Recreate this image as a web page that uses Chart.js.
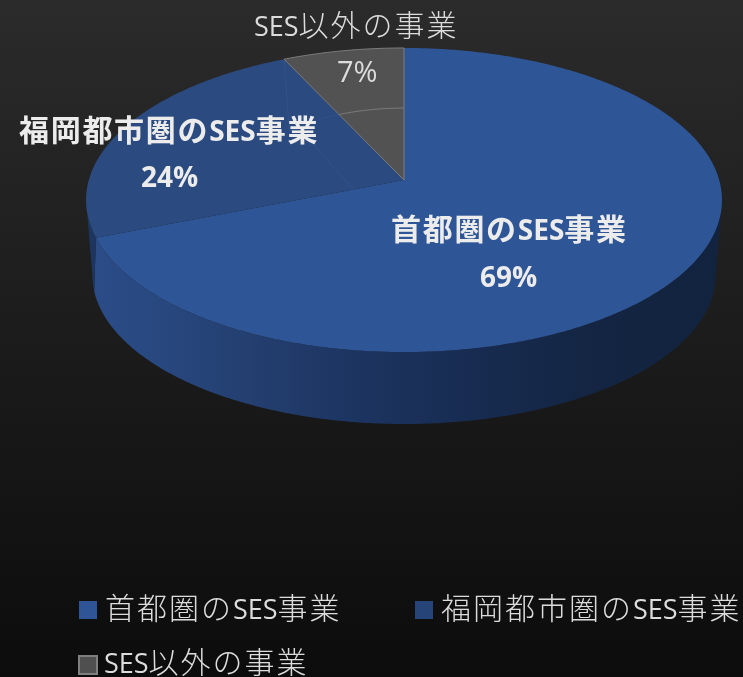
<!DOCTYPE html>
<html><head><meta charset="utf-8">
<style>html,body{margin:0;padding:0;background:#111}canvas{display:block}</style>
<script src="https://cdn.jsdelivr.net/npm/chart.js@4"></script>
</head><body>
<div style="width:743px;height:677px"><canvas id="c" width="743" height="677"></canvas></div>
<script>
const categories = ['首都圏のSES事業', '福岡都市圏のSES事業', 'SES以外の事業'];
const shares = [69, 24, 7];
const sliceColors = ['#2e5596', '#2b4a80', '#525252'];
const edgeColors = [null, null, '#7d7d7d'];
const wallColors = [null, '#1d3660', '#3a3a3a'];
const legendColors = ['#2f5597', '#264478', '#4f4f4f'];
const legendBorders = [null, null, '#7f7f7f'];

// perspective of the pie's top face, relative to the element's outer radius
const P = {a: 315.2/150, b: 149.4/150, k: -0.1316, depthScale: 0.98, depth: 75.4, skew: 0.14};
const proj = (el, t, r = 1, low = false) => {
  const R = el.outerRadius, u = r*Math.sin(t), v = -r*Math.cos(t), w = 1 + P.k*v;
  const s = low ? P.depthScale : 1;
  return [el.x + s*R*P.a*u/w, el.y + s*R*P.b*v/w + (low ? P.depth : 0)];
};
const trace = (ctx, el, t0, t1, low, r = 1, first = false) => {
  const n = Math.max(2, Math.ceil(Math.abs(t1-t0)/0.01));
  for (let i = 0; i <= n; i++) {
    const [x, y] = proj(el, t0 + (t1-t0)*i/n, r, low);
    (i === 0 && first) ? ctx.moveTo(x, y) : ctx.lineTo(x, y);
  }
};

const Base = Chart.registry.getElement('arc');
class ProjArc extends Base {
  draw(ctx) {
    const t0 = this.startAngle + Math.PI/2, t1 = this.endAngle + Math.PI/2;
    const idx = this.$context ? this.$context.dataIndex : 0;
    // side wall: between the silhouette angles of the projected ellipse
    const L = 4.58, a = Math.max(t0, 1.70), b = Math.min(t1, L);
    if (b > a) {
      const lowA = a === t0 ? Math.min(a + P.skew, L) : a;
      const lowB = b === t1 ? Math.min(b + P.skew, L) : b;
      ctx.beginPath();
      trace(ctx, this, a, b, false, 1, true);
      trace(ctx, this, lowB, lowA, true);
      ctx.closePath();
      if (wallColors[idx]) ctx.fillStyle = wallColors[idx];
      else {
        const g = ctx.createLinearGradient(90, 0, 722, 0);
        [[0,'#2b4c87'],[0.1,'#284880'],[0.25,'#243f70'],[0.42,'#1c3460'],[0.62,'#172b50'],[0.8,'#132542'],[1,'#12233f']]
          .forEach(s => g.addColorStop(s[0], s[1]));
        ctx.fillStyle = g;
      }
      ctx.fill();
    }
    // top face
    ctx.beginPath();
    ctx.moveTo(this.x, this.y);
    trace(ctx, this, t0, t1, false);
    ctx.closePath();
    ctx.fillStyle = sliceColors[idx];
    ctx.fill();
    if (idx === 1) {          // faint inner facets
      ctx.save();
      ctx.strokeStyle = 'rgba(70,110,175,0.22)';
      ctx.lineWidth = 1;
      ctx.beginPath();
      const e = proj(this, t1), m = proj(this, 5.45, 0.514);
      ctx.moveTo(e[0], e[1]); ctx.lineTo(m[0], m[1]);
      trace(ctx, this, 5.45, t1, false, 0.514);
      const s = proj(this, t0, 0.17), q = proj(this, 5.46, 0.438);
      ctx.moveTo(s[0], s[1]); ctx.lineTo(q[0], q[1]);
      ctx.stroke();
      ctx.restore();
    }
    if (edgeColors[idx]) {
      ctx.strokeStyle = edgeColors[idx];
      ctx.lineWidth = 1;
      ctx.stroke();
      ctx.beginPath();
      trace(ctx, this, t0, t1, false, 0.514, true);
      ctx.stroke();
    }
  }
}
ProjArc.id = 'projArc';
ProjArc.defaults = Base.defaults;
ProjArc.defaultRoutes = Base.defaultRoutes;

const PieBase = Chart.registry.getController('pie');
class Pie3D extends PieBase {}
Pie3D.id = 'pie3d';
Pie3D.defaults = {dataElementType: 'projArc'};
Chart.register(ProjArc, Pie3D);

const CJK = '"Noto Sans CJK JP"', LAT = '"Open Sans"';
function runs(ctx, text, x, y, o) {
  const parts = text.match(/[A-Za-z0-9%]+|[^A-Za-z0-9%]+/g);
  ctx.textBaseline = 'alphabetic'; ctx.textAlign = 'left';
  ctx.fillStyle = o.color;
  parts.forEach(p => {
    const lat = /^[A-Za-z0-9%]/.test(p);
    ctx.font = `${lat ? o.latW : o.cjkW} ${lat ? o.lat : o.cjk}px ${lat ? LAT : CJK}`;
    ctx.letterSpacing = (lat ? 0 : o.gap) + 'px';
    ctx.fillText(p, x, y);
    x += ctx.measureText(p).width;
  });
  ctx.letterSpacing = '0px';
}
const bold = {cjk: 30, lat: 28, cjkW: 700, latW: 700, gap: 1.7, color: '#ececec'};
const thin = {cjk: 30, lat: 27, cjkW: 300, latW: 500, gap: 2, color: '#dcdcdc'};
const backdrop = {id: 'backdrop', beforeDraw(ch) {
  const ctx = ch.ctx, g = ctx.createLinearGradient(0, 0, 0, ch.height);
  g.addColorStop(0, '#2b2b2b'); g.addColorStop(1, '#0c0c0c');
  ctx.save(); ctx.fillStyle = g; ctx.fillRect(0, 0, ch.width, ch.height); ctx.restore();
}};
const texts = {id: 'texts', afterDatasetsDraw(ch) {
  const ctx = ch.ctx; ctx.save();
  const pct = shares.map(v => v + '%');
  runs(ctx, categories[0], 391, 240, bold);
  runs(ctx, pct[0], 480, 287, bold);
  runs(ctx, categories[1], 19, 141, bold);
  runs(ctx, pct[1], 141, 187, bold);
  runs(ctx, categories[2], 254, 36, thin);
  runs(ctx, pct[2], 337, 82, {...thin, lat: 29, latW: 400});
  // legend
  const items = [[79, 601, 105, 619], [415, 601, 441, 619], [79, 656, 104, 673]];
  categories.forEach((c, i) => {
    const [sx, sy, tx, by] = items[i];
    ctx.fillStyle = legendColors[i];
    ctx.fillRect(sx, sy, 18, 18);
    if (legendBorders[i]) { ctx.strokeStyle = legendBorders[i]; ctx.lineWidth = 2; ctx.strokeRect(sx, sy, 18, 18); }
    runs(ctx, c, tx, by, thin);
  });
  ctx.restore();
}};
new Chart(document.getElementById('c'), {
  type: 'pie3d',
  data: {labels: categories, datasets: [{data: shares, backgroundColor: sliceColors, borderWidth: 0}]},
  options: {
    responsive: false, animation: false, events: [],
    layout: {padding: {left: 254, right: 189, top: 30, bottom: 347}},
    plugins: {legend: {display: false}, tooltip: {enabled: false}}
  },
  plugins: [backdrop, texts]
});
</script>
</body></html>
